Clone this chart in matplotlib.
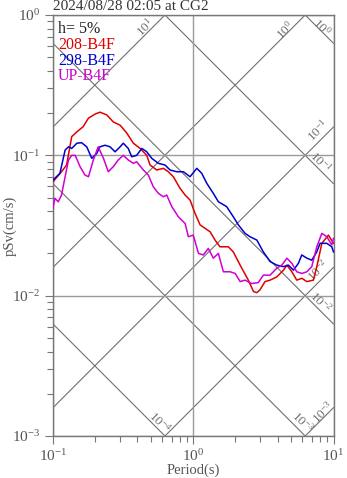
import numpy as np
import matplotlib
matplotlib.use("Agg")
import matplotlib.pyplot as plt

# --------------------------
# Spectrum data (period in s, pSv in cm/s)
# --------------------------
TITLE = "2024/08/28 02:05 at CG2"
DAMPING_LABEL = "h= 5%"

T_208 = [0.100, 0.115, 0.125, 0.136, 0.148, 0.164, 0.179, 0.200, 0.216, 0.242,
         0.269, 0.301, 0.336, 0.374, 0.418, 0.466, 0.492, 0.549, 0.612, 0.664,
         0.721, 0.805, 0.875, 0.949, 1.03, 1.12, 1.32, 1.43, 1.55, 1.78,
         1.93, 2.16, 2.47, 2.69, 2.84, 2.99, 3.25, 3.53, 3.94, 4.40,
         4.65, 5.05, 5.47, 5.94, 6.46, 7.19, 7.60, 8.26, 9.20, 10.0]
SV_208 = [0.0648, 0.0764, 0.0853, 0.136, 0.147, 0.160, 0.184, 0.197, 0.203, 0.194,
          0.173, 0.164, 0.144, 0.122, 0.112, 0.100, 0.0853, 0.0786, 0.0808, 0.0764,
          0.0704, 0.0582, 0.0521, 0.0480, 0.0386, 0.0319, 0.0285, 0.0249, 0.0223, 0.0223,
          0.0205, 0.0165, 0.0129, 0.0107, 0.0105, 0.0110, 0.0126, 0.0129, 0.0136, 0.0152,
          0.0165, 0.0148, 0.0129, 0.0133, 0.0126, 0.0129, 0.0161, 0.0236, 0.0270, 0.0236]

T_298 = [0.100, 0.112, 0.122, 0.129, 0.136, 0.148, 0.160, 0.174, 0.189, 0.205,
         0.216, 0.235, 0.255, 0.277, 0.301, 0.317, 0.344, 0.364, 0.395, 0.430,
         0.466, 0.506, 0.564, 0.629, 0.684, 0.763, 0.850, 0.949, 1.06, 1.15,
         1.25, 1.39, 1.51, 1.73, 1.93, 2.10, 2.34, 2.54, 2.84, 3.16,
         3.53, 3.94, 4.40, 4.77, 5.18, 5.62, 5.94, 6.46, 7.00, 7.60,
         8.02, 8.96, 9.72, 10.0]
SV_298 = [0.0667, 0.0744, 0.109, 0.115, 0.112, 0.122, 0.123, 0.115, 0.0952, 0.103,
          0.115, 0.118, 0.115, 0.106, 0.115, 0.122, 0.112, 0.0977, 0.100, 0.112,
          0.106, 0.0952, 0.0877, 0.0853, 0.0786, 0.0764, 0.0764, 0.0704, 0.0808, 0.0744,
          0.0631, 0.0536, 0.0467, 0.0431, 0.0365, 0.0319, 0.0278, 0.0263, 0.0249, 0.0205,
          0.0175, 0.0165, 0.0161, 0.0165, 0.0152, 0.0170, 0.0195, 0.0185, 0.0179, 0.0205,
          0.0236, 0.0236, 0.0223, 0.0205]

T_UP = [0.100, 0.103, 0.109, 0.115, 0.122, 0.129, 0.136, 0.144, 0.156, 0.169,
        0.179, 0.194, 0.210, 0.229, 0.248, 0.269, 0.292, 0.317, 0.344, 0.374,
        0.395, 0.441, 0.478, 0.519, 0.564, 0.612, 0.647, 0.703, 0.783, 0.875,
        0.923, 1.00, 1.09, 1.18, 1.28, 1.39, 1.51, 1.64, 1.83, 1.99,
        2.16, 2.34, 2.61, 2.91, 3.16, 3.53, 3.94, 4.28, 4.65, 5.05,
        5.47, 5.94, 6.46, 7.00, 7.60, 8.26, 8.96, 9.72, 10.0]
SV_UP = [0.0419, 0.0494, 0.0467, 0.0521, 0.0704, 0.0927, 0.100, 0.100, 0.0830, 0.0724,
         0.0704, 0.0927, 0.115, 0.0952, 0.0764, 0.0830, 0.0927, 0.100, 0.0927, 0.0877,
         0.0900, 0.0786, 0.0724, 0.0597, 0.0536, 0.0507, 0.0521, 0.0431, 0.0365, 0.0327,
         0.0263, 0.0270, 0.0200, 0.0195, 0.0217, 0.0185, 0.0200, 0.0148, 0.0148, 0.0144,
         0.0126, 0.0129, 0.0122, 0.0124, 0.0140, 0.0140, 0.0157, 0.0165, 0.0185, 0.0170,
         0.0148, 0.0144, 0.0148, 0.0161, 0.0223, 0.0278, 0.0263, 0.0230, 0.0256]

SERIES = [
    ("208-B4F", T_208, SV_208, "#e00000"),
    ("298-B4F", T_298, SV_298, "#0000d0"),
    ("UP-B4F", T_UP, SV_UP, "#d000d0"),
]

# Tripartite reference lines: exponents of Sa (cm/s^2) and Sd (cm)
SA_EXPONENTS = [-3, -2, -1, 0, 1]
SD_EXPONENTS = [-4, -3, -2, -1, 0]

# Label spots (period, pSv) for the diagonal lines
SA_LABELS = {1: (0.453, 0.81), 0: (4.52, 0.78), -1: (7.77, 0.151),
             -2: (7.77, 0.0152), -3: (8.43, 0.00148)}
SD_LABELS = {0: (8.29, 0.82), -1: (8.02, 0.0896), -2: (8.02, 0.0090),
             -3: (5.97, 0.00126), -4: (0.58, 0.00126)}

# --------------------------
# Style
# --------------------------
plt.rcParams["font.family"] = ["Liberation Serif", "DejaVu Serif"]
plt.rcParams["mathtext.fontset"] = "custom"
plt.rcParams["mathtext.rm"] = "Liberation Serif"
plt.rcParams["mathtext.it"] = "Liberation Serif:italic"

GRAY_TEXT = "#555555"
DIAG_COLOR = "#707070"
W, H = 347, 478

fig = plt.figure(figsize=(W / 100, H / 100), dpi=100)
ax = fig.add_axes([53 / W, 42 / H, 280.5 / W, 421 / H])

ax.set_xscale("log")
ax.set_yscale("log")
ax.set_xlim(0.1, 10)
ax.set_ylim(1e-3, 1)

T_LINE = np.array([0.1, 10.0])

# constant spectral acceleration lines (ascending)
for k in SA_EXPONENTS:
    sa = 10.0 ** k
    ax.plot(T_LINE, sa * T_LINE / (2 * np.pi), color=DIAG_COLOR, lw=0.8, zorder=1)
    tx, ty = SA_LABELS[k]
    ax.text(tx, ty, f"$10^{{{k}}}$", rotation=45, ha="center", va="center",
            fontsize=9.5, color=DIAG_COLOR, rotation_mode="anchor")

# constant spectral displacement lines (descending)
for k in SD_EXPONENTS:
    sd = 10.0 ** k
    ax.plot(T_LINE, 2 * np.pi * sd / T_LINE, color=DIAG_COLOR, lw=0.8, zorder=1)
    tx, ty = SD_LABELS[k]
    ax.text(tx, ty, f"$10^{{{k}}}$", rotation=-45, ha="center", va="center",
            fontsize=9.5, color=DIAG_COLOR, rotation_mode="anchor")

# decade grid
ax.grid(True, which="major", color="#9a9a9a", lw=1.0, zorder=0)

for name, t, sv, color in SERIES:
    ax.plot(t, sv, color=color, lw=1.1, zorder=3)

# damping and channel names in the upper left corner
fig.text(58 / W, 1 - 33 / H, DAMPING_LABEL, fontsize=11.5, color="#222222")
for (name, t, sv, color), y in zip(SERIES, [49, 65, 80]):
    fig.text(58 / W, 1 - y / H, name, fontsize=11.5, color=color)

fig.text(53 / W, 1 - 10 / H, TITLE, fontsize=11, color="#333333")

for spine in ax.spines.values():
    spine.set_color("#777777")
    spine.set_linewidth(1.0)

ax.tick_params(which="major", length=6, width=0.8, color="#777777",
               labelcolor=GRAY_TEXT, labelsize=11, pad=3)
ax.tick_params(which="minor", length=4, width=0.8, color="#777777")

ax.set_xlabel("Period(s)", fontsize=10.5, color=GRAY_TEXT)
ax.set_ylabel("pSv(cm/s)", fontsize=10.5, color=GRAY_TEXT)
ax.xaxis.set_label_coords(0.5, (436 - 464) / 421)
ax.yaxis.set_label_coords((17 - 53) / 280.5, 0.5)

fig.savefig("out.png", dpi=100)
